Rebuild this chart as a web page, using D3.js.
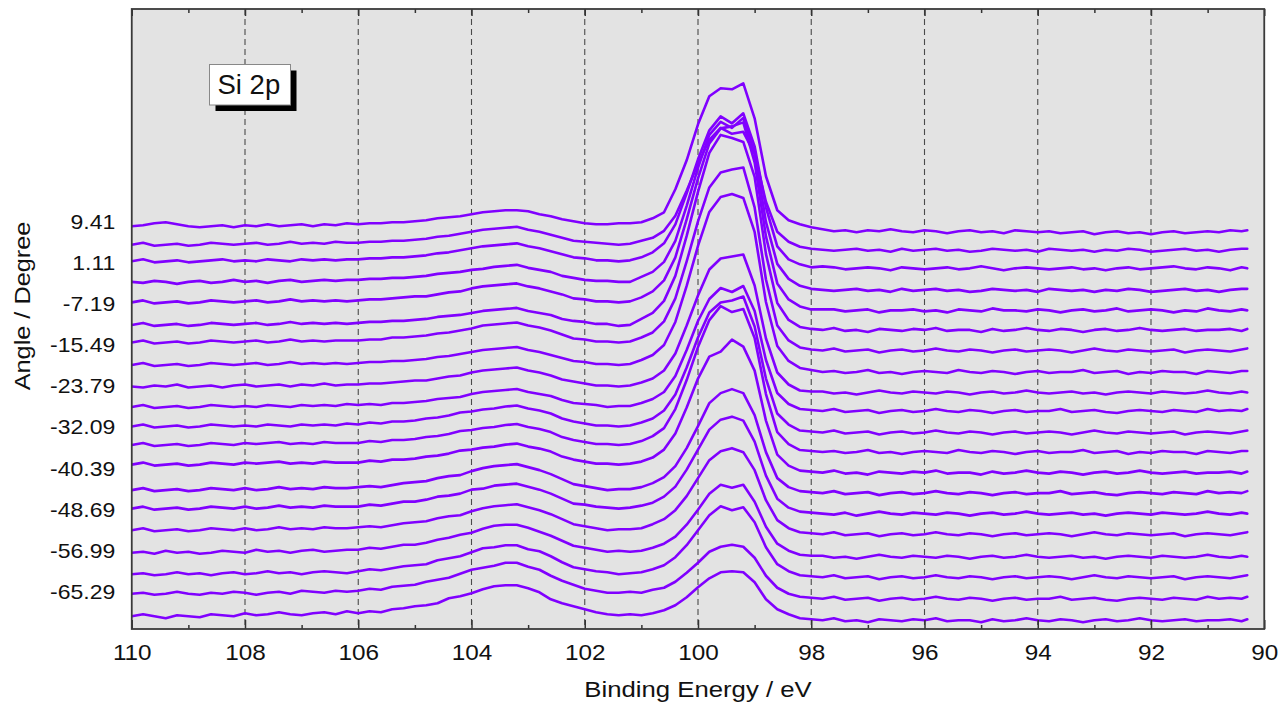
<!DOCTYPE html>
<html><head><meta charset="utf-8">
<script src="https://cdn.jsdelivr.net/npm/d3@7"></script>
<style>
html,body{margin:0;padding:0;background:#fff;}
svg{display:block;}
text{font-family:"Liberation Sans",Arial,sans-serif;fill:#111;}
</style>
</head><body>
<svg id="chart" width="1284" height="703"></svg>
<script>
// ---------- data ----------
const energies = [110,109.8,109.6,109.4,109.2,109,108.8,108.6,108.4,108.2,
  108,107.8,107.6,107.4,107.2,107,106.8,106.6,106.4,106.2,
  106,105.8,105.6,105.4,105.2,105,104.8,104.6,104.4,104.2,
  104,103.8,103.6,103.4,103.2,103,102.8,102.6,102.4,102.2,
  102,101.8,101.6,101.4,101.2,101,100.8,100.6,100.4,100.2,
  100,99.8,99.6,99.4,99.2,99,98.8,98.6,98.4,98.2,
  98,97.8,97.6,97.4,97.2,97,96.8,96.6,96.4,96.2,
  96,95.8,95.6,95.4,95.2,95,94.8,94.6,94.4,94.2,
  94,93.8,93.6,93.4,93.2,93,92.8,92.6,92.4,92.2,
  92,91.8,91.6,91.4,91.2,91,90.8,90.6,90.4,90.3];
const angles = [-69.44,-65.29,-61.14,-56.99,-52.84,-48.69,-44.54,-40.39,-36.24,-32.09,-27.94,-23.79,-19.64,-15.49,-11.34,-7.19,-3.04,1.11,5.26,9.41];
const yTickAngles = [9.41,1.11,-7.19,-15.49,-23.79,-32.09,-40.39,-48.69,-56.99,-65.29];
const xTickValues = [110,108,106,104,102,100,98,96,94,92,90];
const xMinorTicks = [109,107,105,103,101,99,97,95,93,91];
const gridEnergies = [108,106,104,102,100,98,96,94,92];
const peakLabel = "Si 2p";
const xTitle = "Binding Energy / eV";
const yTitle = "Angle / Degree";

// intensities (a.u.) per emission angle, same order as `angles`
const spec00 = [-4,-2,-4,-6,-3,-4,-5,-2,-3,-4,-1,-3,-2,0,-2,-3,-1,0,-2,1,
  -1,1,0,3,4,6,7,9,14,16,19,23,26,27,27,24,20,13,9,6,3,0,-2,-3,-2,
  -3,-1,2,7,15,25,34,40,41,40,30,13,3,-2,-6,-7,
  -8,-6,-9,-8,-10,-7,-8,-9,-7,-8,-6,-9,-8,-8,-10,-7,-9,-8,-6,-8,-9,-7,-8,-10,-8,-7,-9,-8,-6,-8,-9,-8,-7,-9,-8,-8,-7,-9,-7];
const spec01 = [-2,-1,-3,-2,0,-2,-3,-1,-2,0,-1,-3,-1,0,-2,1,0,-1,1,0,
  1,3,2,5,6,7,10,12,14,18,22,24,26,29,29,25,22,16,11,7,3,1,-1,-1,0,
  -1,2,4,10,19,29,40,45,47,45,34,16,4,-2,-5,-6,
  -7,-5,-8,-7,-6,-9,-7,-6,-8,-7,-5,-7,-8,-6,-7,-9,-7,-6,-8,-7,-7,-5,-8,-7,-6,-8,-9,-7,-6,-7,-8,-6,-7,-8,-5,-7,-6,-7,-5];
const spec02 = [-3,-2,-4,-3,-1,-3,-2,-4,-2,-1,-3,-2,0,-2,-1,-3,-1,0,-1,-2,
  0,2,1,3,5,6,7,11,13,15,19,23,24,26,26,22,20,15,9,4,2,0,-1,-3,-2,
  -1,2,6,14,26,41,56,65,61,64,49,24,7,0,-4,-5,
  -6,-4,-7,-6,-5,-8,-6,-5,-7,-6,-4,-6,-7,-5,-6,-8,-6,-5,-7,-6,-5,-6,-8,-6,-4,-6,-7,-5,-6,-7,-6,-5,-8,-6,-5,-6,-7,-5,-4];
const spec03 = [-2,-1,-3,0,-2,-1,-3,-2,0,-1,-2,1,-1,0,-2,0,1,-1,0,1,
  1,3,2,4,6,6,8,11,13,16,18,22,25,26,26,23,19,15,10,5,3,1,-1,0,-1,
  0,3,7,14,26,41,57,66,63,66,49,24,7,0,-4,-5,
  -5,-7,-6,-8,-6,-4,-6,-7,-5,-6,-7,-5,-6,-8,-6,-5,-7,-6,-4,-6,-7,-6,-5,-7,-6,-8,-6,-5,-6,-7,-5,-6,-7,-6,-4,-6,-7,-5,-6];
const spec04 = [0,2,-1,0,1,-1,0,2,1,0,2,0,1,3,1,2,1,3,2,2,
  3,4,3,5,7,8,9,12,14,15,19,22,24,25,26,23,20,16,11,6,4,2,0,1,1,
  2,6,11,20,34,52,70,79,82,78,60,30,10,2,-2,-3,
  -4,-2,-5,-4,-3,-6,-4,-3,-5,-4,-2,-4,-5,-3,-4,-6,-4,-3,-5,-4,-3,-4,-6,-4,-2,-4,-5,-3,-4,-5,-4,-3,-6,-4,-3,-4,-5,-3,-2];
const spec05 = [1,3,0,1,2,0,1,3,2,1,3,1,2,4,2,3,2,4,3,3,
  3,5,4,6,8,8,10,13,14,16,20,21,24,25,26,23,20,16,11,6,5,3,2,1,2,
  4,7,13,23,40,60,80,90,93,89,68,34,11,2,-2,-3,
  -4,-5,-3,-6,-4,-2,-4,-5,-3,-4,-5,-3,-4,-6,-4,-3,-5,-4,-2,-4,-5,-4,-3,-5,-4,-6,-4,-3,-4,-5,-3,-4,-5,-4,-2,-4,-5,-3,-4];
const spec06 = [-1,1,-2,-1,0,-2,-1,1,0,-1,1,-1,0,2,0,1,0,2,1,1,
  2,3,2,4,6,7,8,11,13,14,18,21,23,24,25,22,19,15,10,5,3,1,-1,0,0,
  2,6,12,23,41,63,86,96,100,96,74,37,11,2,-2,-3,
  -4,-2,-5,-4,-3,-6,-4,-3,-5,-4,-2,-4,-5,-3,-4,-6,-4,-3,-5,-4,-4,-2,-5,-4,-3,-5,-6,-4,-3,-4,-5,-3,-4,-5,-2,-4,-3,-4,-2];
const spec07 = [4,6,3,4,5,3,4,6,5,4,6,5,6,7,5,6,5,7,6,6,
  6,8,7,9,9,10,12,13,15,18,19,21,22,24,25,22,20,17,12,9,7,5,5,4,5,
  7,11,19,35,61,90,112,117,129,122,98,48,14,3,-2,-3,
  -4,-2,-5,-4,-6,-3,-4,-5,-3,-4,-2,-5,-4,-4,-6,-3,-5,-4,-2,-4,-5,-3,-4,-6,-4,-3,-5,-4,-2,-4,-5,-4,-3,-5,-4,-4,-3,-5,-3];
const spec08 = [3,5,2,3,4,2,3,5,4,3,5,4,5,6,4,5,4,6,5,5,
  5,7,6,8,8,9,11,12,14,17,18,20,21,23,24,21,19,16,11,8,6,4,4,3,4,
  7,12,20,39,68,101,128,142,136,139,110,54,16,4,-2,-3,
  -4,-3,-5,-4,-2,-5,-4,-6,-4,-3,-4,-5,-2,-4,-5,-3,-4,-6,-4,-3,-5,-4,-4,-2,-5,-4,-3,-6,-4,-5,-3,-4,-4,-6,-3,-4,-5,-3,-3];
const spec09 = [1,3,0,1,2,0,1,3,2,1,2,1,3,2,1,3,2,3,2,4,
  3,5,4,6,6,7,9,10,12,15,16,18,19,21,22,19,17,14,9,6,4,2,2,1,2,
  5,9,17,33,60,90,115,125,127,131,101,49,14,3,-3,-4,
  -5,-3,-6,-5,-4,-7,-5,-4,-6,-5,-3,-5,-6,-4,-5,-7,-5,-4,-6,-5,-4,-5,-7,-5,-3,-5,-6,-4,-5,-6,-5,-4,-7,-5,-4,-5,-6,-4,-3];
const spec10 = [0,2,-1,0,1,-1,0,2,1,0,1,0,2,1,0,2,1,2,1,3,
  2,3,2,4,4,5,6,8,9,10,13,15,16,17,18,15,13,11,7,4,3,2,0,1,1,
  4,8,15,31,57,86,108,119,115,121,96,47,14,3,-2,-3,
  -4,-2,-5,-4,-3,-6,-4,-3,-5,-4,-2,-4,-5,-3,-4,-6,-4,-3,-5,-4,-4,-2,-5,-4,-3,-5,-6,-4,-3,-4,-5,-3,-4,-5,-2,-4,-3,-4,-2];
const spec11 = [0,-1,1,0,2,-1,0,1,-1,1,2,0,1,2,0,2,1,3,1,2,
  2,3,3,4,5,6,6,8,10,11,14,16,17,18,19,16,14,11,7,5,3,1,1,0,1,
  4,8,16,33,61,91,117,128,130,132,101,48,14,2,-4,-5,
  -5,-7,-6,-8,-6,-4,-6,-7,-5,-6,-7,-5,-6,-8,-6,-5,-7,-6,-4,-6,-7,-6,-5,-7,-6,-8,-6,-5,-6,-7,-5,-6,-7,-6,-4,-6,-7,-5,-6];
const spec12 = [1,3,0,1,2,0,1,3,2,1,2,3,1,2,4,2,3,2,3,2,
  3,4,4,5,5,6,7,9,10,12,14,16,17,18,19,16,14,11,8,5,4,2,2,1,2,
  6,11,21,44,80,120,154,169,172,168,134,64,20,5,-2,-4,
  -6,-5,-7,-6,-4,-7,-6,-8,-6,-5,-6,-7,-4,-6,-7,-5,-6,-8,-6,-5,-7,-6,-6,-4,-7,-6,-5,-8,-6,-7,-5,-6,-6,-8,-5,-6,-7,-5,-5];
const spec13 = [3,5,2,3,4,2,3,5,4,3,4,5,3,4,6,4,5,4,5,5,
  5,6,6,8,8,9,10,12,13,15,17,20,21,22,23,20,18,15,11,7,6,4,4,3,4,
  8,13,24,47,84,124,158,173,176,178,138,66,20,5,-2,-4,
  -5,-3,-6,-5,-4,-7,-5,-4,-6,-5,-3,-5,-6,-4,-5,-7,-5,-4,-6,-5,-4,-5,-7,-5,-3,-5,-6,-4,-5,-6,-5,-4,-7,-5,-4,-5,-6,-4,-3];
const spec14 = [0,2,-1,0,1,-1,0,2,1,0,1,2,0,1,3,1,2,1,2,1,
  2,3,3,4,4,5,6,8,9,10,12,14,15,16,17,14,12,10,6,4,3,1,1,-1,0,
  6,12,24,49,89,133,172,190,187,183,148,71,22,5,-2,-4,
  -5,-3,-6,-5,-7,-4,-5,-6,-4,-5,-3,-6,-5,-5,-7,-4,-6,-5,-3,-5,-6,-4,-5,-7,-5,-4,-6,-5,-3,-5,-6,-5,-4,-6,-5,-5,-4,-6,-4];
const spec15 = [2,4,1,2,3,1,2,4,3,2,3,4,2,3,5,3,4,3,4,3,
  4,5,5,6,7,8,8,10,12,13,16,18,19,20,21,18,16,13,10,6,5,3,3,2,3,
  7,13,24,47,85,126,161,176,178,182,142,68,21,5,-2,-5,
  -5,-5,-7,-6,-5,-8,-6,-6,-5,-7,-6,-8,-5,-6,-7,-4,-6,-6,-7,-5,-6,-8,-6,-5,-7,-6,-4,-7,-6,-5,-6,-8,-6,-7,-4,-6,-7,-5,-6];
const spec16 = [2,1,3,2,0,2,3,1,2,4,2,3,1,3,4,2,3,4,3,4,
  4,5,5,6,6,7,8,10,11,12,14,15,17,18,19,16,14,12,8,6,4,3,3,2,2,
  7,12,22,43,78,116,149,162,156,166,131,62,20,5,-2,-5,
  -6,-7,-6,-5,-7,-6,-8,-5,-7,-6,-5,-7,-6,-8,-7,-5,-6,-7,-6,-8,-5,-6,-7,-6,-8,-6,-7,-5,-6,-8,-7,-6,-5,-7,-6,-8,-6,-5,-5];
const spec17 = [2,4,1,2,3,1,2,3,4,2,3,2,4,3,2,4,3,4,3,4,
  4,5,5,6,6,7,8,10,11,13,15,17,18,19,20,17,15,12,9,6,5,3,3,2,3,
  6,11,20,39,70,104,133,147,140,150,117,56,17,4,-1,-4,
  -3,-4,-6,-5,-4,-5,-7,-4,-5,-6,-5,-4,-6,-5,-3,-5,-7,-5,-4,-5,-6,-5,-4,-6,-5,-7,-5,-4,-6,-5,-4,-3,-5,-6,-4,-5,-7,-4,-5];
const spec18 = [-2,0,-3,-2,-1,-3,-2,0,-1,-2,-1,0,-2,-1,1,-1,0,-1,1,0,
  0,1,1,2,2,3,4,6,7,9,11,13,14,15,16,13,11,8,5,2,1,0,-1,-2,-1,
  2,5,12,27,52,79,103,115,109,111,89,41,11,1,-4,-6,
  -7,-8,-7,-6,-8,-7,-9,-6,-8,-7,-6,-8,-7,-9,-8,-6,-7,-8,-7,-9,-6,-7,-8,-7,-9,-7,-8,-6,-7,-9,-8,-7,-6,-8,-7,-9,-7,-6,-6];
const spec19 = [-4,-3,-1,0,-2,-4,-5,-4,-3,-5,-3,-4,-2,-4,-3,-2,-4,-2,-3,-1,
  -2,-1,-1,0,0,1,2,4,5,6,8,10,11,12,12,11,8,6,3,1,-1,-2,-2,-1,-1,
  0,4,10,33,62,98,126,134,133,139,104,46,12,2,-2,-5,
  -7,-9,-8,-10,-8,-9,-7,-9,-10,-8,-9,-11,-9,-8,-10,-9,-11,-8,-9,-10,-9,-11,-10,-9,-12,-10,-9,-11,-10,-12,-10,-9,-11,-10,-9,-10,-8,-9,-8];
const spectra = [spec00,spec01,spec02,spec03,spec04,spec05,spec06,spec07,spec08,spec09,
                 spec10,spec11,spec12,spec13,spec14,spec15,spec16,spec17,spec18,spec19];

// ---------- layout ----------
const W = 1284, H = 703;
const margin = {left: 131.75, right: 19.75, top: 9, bottom: 74};
const x = d3.scaleLinear().domain([110, 90]).range([margin.left, W - margin.right]);
const y = d3.scaleLinear().domain([-72.82, 52.53]).range([H - margin.bottom, margin.top]);
const yInt = d3.scaleLinear().domain([0, 100]).range([0, -100]);

const svg = d3.select("#chart");
const pw = W - margin.left - margin.right, ph = H - margin.top - margin.bottom;

svg.append("defs").append("clipPath").attr("id", "clip")
  .append("rect").attr("x", margin.left).attr("y", margin.top).attr("width", pw).attr("height", ph);

svg.append("rect").attr("x", margin.left).attr("y", margin.top)
  .attr("width", pw).attr("height", ph).attr("fill", "#e3e3e3");

// dashed grid
svg.append("g").selectAll("line").data(gridEnergies).join("line")
  .attr("x1", d => x(d)).attr("x2", d => x(d))
  .attr("y1", margin.top).attr("y2", H - margin.bottom)
  .attr("stroke", "#4a4a4a").attr("stroke-width", 1.1).attr("stroke-dasharray", "6,4");

// spectra
const gLines = svg.append("g").attr("clip-path", "url(#clip)");
spectra.forEach((s, k) => {
  const base = y(angles[k]);
  const line = d3.line().x((d, i) => x(energies[i])).y(d => base + yInt(d));
  gLines.append("path").datum(s).attr("d", line)
    .attr("fill", "none").attr("stroke", "#8000ff").attr("stroke-width", 2.6)
    .attr("stroke-linejoin", "round").attr("stroke-linecap", "round");
});

// axes
const gB = svg.append("g").attr("transform", `translate(0,${H - margin.bottom})`)
  .call(d3.axisBottom(x).tickValues(xTickValues).tickSize(-9).tickPadding(15).tickFormat(d => d));
gB.select(".domain").remove();
gB.selectAll("line").attr("stroke", "#333").attr("stroke-width", 1.5);
gB.selectAll("text").attr("font-size", 22.5).attr("fill", "#111")
  .attr("font-family", '"Liberation Sans", Arial, sans-serif').attr("transform", "scale(1.08,1)");
const gBm = svg.append("g").attr("transform", `translate(0,${H - margin.bottom})`)
  .call(d3.axisBottom(x).tickValues(xMinorTicks).tickSize(-4).tickFormat(""));
gBm.select(".domain").remove();
gBm.selectAll("line").attr("stroke", "#333").attr("stroke-width", 1.5);

const gT = svg.append("g").attr("transform", `translate(0,${margin.top})`)
  .call(d3.axisTop(x).tickValues(xTickValues).tickSize(-7).tickFormat(""));
gT.select(".domain").remove();
gT.selectAll("line").attr("stroke", "#333").attr("stroke-width", 1.5);
const gTm = svg.append("g").attr("transform", `translate(0,${margin.top})`)
  .call(d3.axisTop(x).tickValues(xMinorTicks).tickSize(-4).tickFormat(""));
gTm.select(".domain").remove();
gTm.selectAll("line").attr("stroke", "#333").attr("stroke-width", 1.5);

const gL = svg.append("g").attr("transform", `translate(${margin.left},0)`)
  .call(d3.axisLeft(y).tickValues(yTickAngles).tickSize(0).tickPadding(0).tickFormat(d => d.toFixed(2)));
gL.select(".domain").remove();
gL.selectAll("text").attr("font-size", 20).attr("fill", "#111")
  .attr("font-family", '"Liberation Sans", Arial, sans-serif')
  .attr("x", -16.5 / 1.15).attr("transform", "scale(1.15,1)");

// frame
svg.append("rect").attr("x", margin.left).attr("y", margin.top)
  .attr("width", pw).attr("height", ph).attr("fill", "none")
  .attr("stroke", "#3a3a3a").attr("stroke-width", 1.8);

// axis titles
svg.append("text").attr("transform", `translate(${margin.left + pw / 2},697) scale(1.17,1)`)
  .attr("text-anchor", "middle").attr("font-size", 22).text(xTitle);
svg.append("text").attr("transform", `translate(29.5,306) rotate(-90) scale(1.15,1)`)
  .attr("text-anchor", "middle").attr("font-size", 22).text(yTitle);

// Si 2p label box
const lb = svg.append("g").attr("transform", "translate(209.5,64.5)");
lb.append("rect").attr("x", 6).attr("y", 6).attr("width", 81).attr("height", 40.5).attr("fill", "#000");
lb.append("rect").attr("x", 0).attr("y", 0).attr("width", 81).attr("height", 40.5)
  .attr("fill", "#fff").attr("stroke", "#888").attr("stroke-width", 1);
lb.append("text").attr("x", 8).attr("y", 29.8).attr("font-size", 27.5).attr("fill", "#111").text(peakLabel);
</script>
</body></html>
